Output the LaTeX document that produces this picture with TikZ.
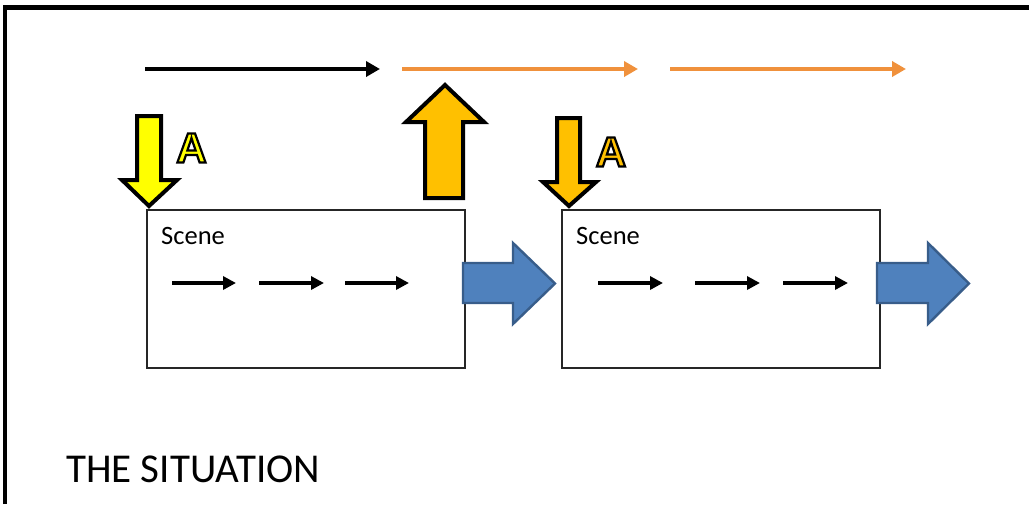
\documentclass[tikz,border=0pt]{standalone}
\usepackage{fontspec}
\setmainfont{Carlito}
\newfontfamily\labelfont{Liberation Sans}
\usetikzlibrary{arrows.meta}

\definecolor{floworange}{RGB}{240,145,60}
\definecolor{amber}{RGB}{255,192,0}
\definecolor{brightyellow}{RGB}{255,255,0}
\definecolor{stepblue}{RGB}{79,129,189}
\definecolor{stepblueedge}{RGB}{56,93,138}

% outlined glyphs: fill with the current colour, stroke in black
\newcommand\outlinedtext[1]{\special{pdf:literal direct 2 Tr 0 0 0 RG 2.2 w}#1\special{pdf:literal direct 0 Tr}}

\tikzset{
  framestroke/.style={line width=4.5pt, black},
  scenebox/.style={draw=black!85, line width=1.6pt, fill=white},
  flowline/.style={line width=4pt, -{Triangle[length=14pt,width=15pt]}},
  innerflow/.style={line width=3.6pt, black, -{Triangle[length=13pt,width=13pt]}},
  blockarrow/.style={line width=4pt, draw=black, line join=miter},
  nextarrow/.style={line width=2.4pt, draw=stepblueedge, fill=stepblue, line join=miter},
  scenelabel/.style={font=\fontsize{26.5}{30}\selectfont, inner sep=0pt, anchor=base west},
  actlabel/.style={font=\labelfont\bfseries\fontsize{42}{46}\selectfont, inner sep=0pt},
}

\begin{document}
\begin{tikzpicture}[x=1pt,y=-1pt]
  \useasboundingbox (0,0) rectangle (1029,504);
  \fill[white] (0,0) rectangle (1029,504);

  % outer frame (left and top edges)
  \draw[framestroke] (5,504) -- (5,7.5) -- (1029,7.5);

  % timeline along the top
  \coordinate (t0) at (145,69);
  \coordinate (t1) at (380,69);
  \coordinate (t2) at (402,69);
  \coordinate (t3) at (638,69);
  \coordinate (t4) at (670,69);
  \coordinate (t5) at (906,69);
  \draw[flowline, black] (t0) -- (t1);
  \draw[flowline, floworange] (t2) -- (t3);
  \draw[flowline, floworange] (t4) -- (t5);

  % the two scenes
  \node[scenebox, minimum width=318pt, minimum height=158pt, inner sep=0pt, anchor=north west] (scene1) at (146,209) {};
  \node[scenebox, minimum width=318pt, minimum height=158pt, inner sep=0pt, anchor=north west] (scene2) at (561,209) {};
  \node[scenelabel] (label1) at (161,244) {Scene};
  \node[scenelabel] (label2) at (576,244) {Scene};

  % steps inside each scene
  \foreach \a/\b [count=\i] in {172/236, 259/324, 345/409} {
    \coordinate (s1a\i) at (\a,283);
    \coordinate (s1b\i) at (\b,283);
    \draw[innerflow] (s1a\i) -- (s1b\i);
  }
  \foreach \a/\b [count=\i] in {598/663, 695/760, 783/848} {
    \coordinate (s2a\i) at (\a,283);
    \coordinate (s2b\i) at (\b,283);
    \draw[innerflow] (s2a\i) -- (s2b\i);
  }

  % block arrows leading out of each scene
  \draw[nextarrow] (463,263) -- (513,263) -- (513,243) -- (555,283.5) -- (513,324) -- (513,303) -- (463,303) -- cycle;
  \draw[nextarrow] (877,263) -- (928,263) -- (928,243) -- (969,283.5) -- (928,324) -- (928,303) -- (877,303) -- cycle;

  % entry arrows into the scenes and the exit arrow up to the timeline
  \draw[blockarrow, fill=brightyellow] (137,116) -- (161,116) -- (161,180) -- (177,180) -- (149,206) -- (122,180) -- (137,180) -- cycle;
  \draw[blockarrow, fill=amber] (425,198) -- (463,198) -- (463,122) -- (484,122) -- (445,85) -- (406,122) -- (425,122) -- cycle;
  \draw[blockarrow, fill=amber] (557,118) -- (580,118) -- (580,182) -- (596,182) -- (569,206) -- (543,182) -- (557,182) -- cycle;

  % caption
  \node[inner sep=0pt, anchor=base west, font=\fontsize{41}{45}\selectfont] (caption) at (66,482) {THE SITUATION};

  % action markers
  \node[actlabel, text=brightyellow] (act1) at (191.5,148) {\outlinedtext{A}};
  \node[actlabel, text=amber] (act2) at (611,152) {\outlinedtext{A}};
\end{tikzpicture}
\end{document}
